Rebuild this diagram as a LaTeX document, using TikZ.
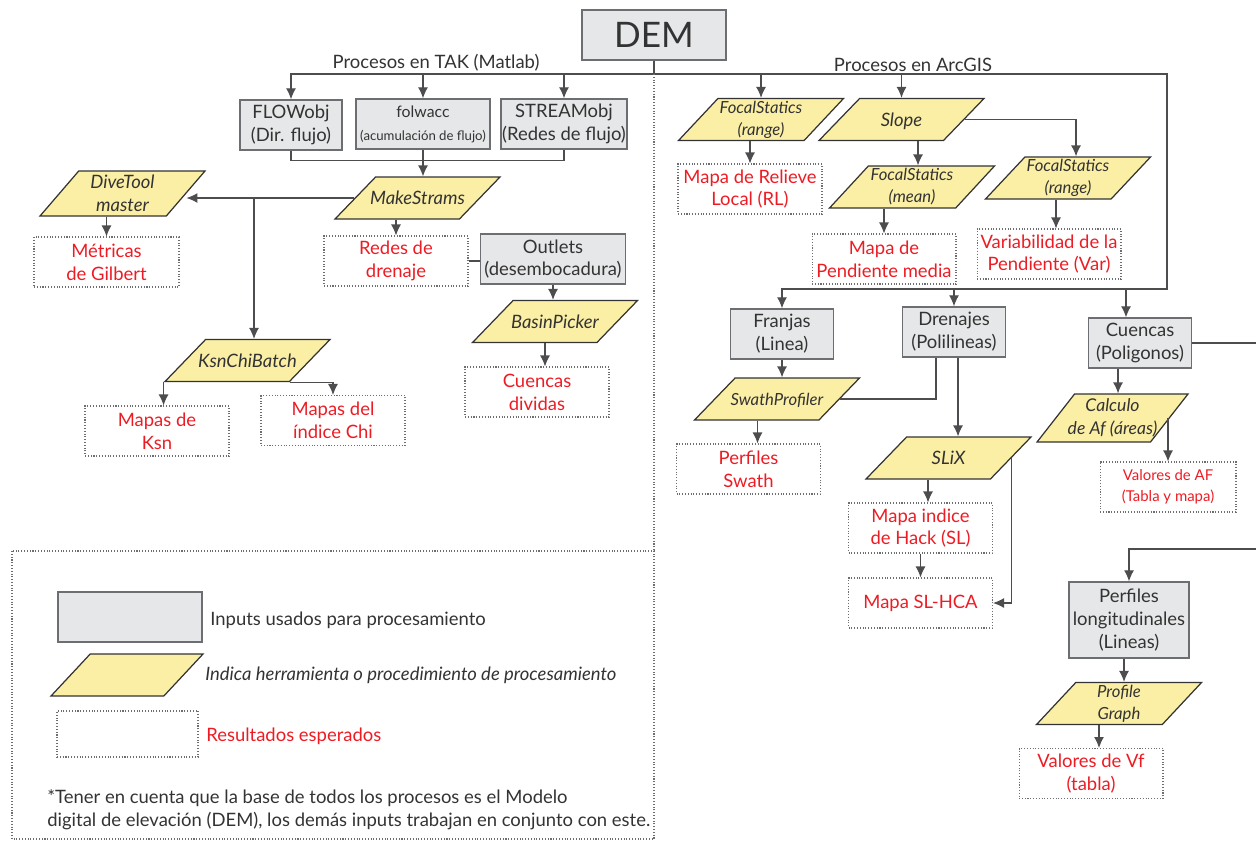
\documentclass[tikz,border=0pt]{standalone}
\usepackage{fontspec}
\setmainfont{Lato}
\usetikzlibrary{arrows.meta, shapes.geometric}

\definecolor{boxgray}{HTML}{E6E7E8}
\definecolor{edgegray}{HTML}{6D6E71}
\definecolor{toolyellow}{HTML}{FBEFA6}
\definecolor{resred}{HTML}{ED1C24}
\definecolor{inkgray}{HTML}{333333}
\definecolor{wiregray}{HTML}{4D4D4F}

\begin{document}
\begin{tikzpicture}[x=0.02cm, y=-0.02cm,
  every node/.style={text=inkgray, inner sep=0pt, font=\fontsize{10.5}{13}\selectfont},
  input/.style={draw=edgegray, fill=boxgray, line width=0.8pt, align=center, minimum width=2.06cm, minimum height=1cm},
  tool/.style={trapezium, trapezium left angle=46, trapezium right angle=134, trapezium stretches body,
    draw=inkgray, fill=toolyellow, line width=0.7pt, inner xsep=-0.25cm, inner ysep=0.035cm,
    minimum width=3.3cm, minimum height=0.84cm, align=center, font=\itshape\fontsize{9.5}{12.5}\selectfont},
  bigtool/.style={tool, font=\itshape\fontsize{10.5}{13}\selectfont},
  oneline/.style={text height=0.55cm, text depth=0.29cm, inner ysep=0pt},
  result/.style={draw=edgegray, densely dotted, line width=0.6pt, text=resred, align=center, minimum width=2.88cm, minimum height=1cm},
  wire/.style={draw=wiregray, line width=0.7pt},
  arr/.style={wire, -{Latex[length=2.2mm,width=2mm]}},
  sep/.style={draw=edgegray, densely dotted, line width=0.6pt}
]
\useasboundingbox (0,0) rectangle (1256,840);

% DEM y titulos
\node [input, minimum width=2.88cm, font=\fontsize{20}{24}\selectfont] (dem) at (654,35) {DEM};
\node (tak) at (436,63) {Procesos en TAK (Matlab)};
\node (arcgis) at (913,65) {Procesos en ArcGIS};

% TAK
\node [input, minimum width=2.04cm] (flow) at (291,125) {FLOWobj\\(Dir. flujo)};
\node [input, minimum width=2.68cm, font=\fontsize{9}{13}\selectfont] (folw) at (423,124) {folwacc\\{\fontsize{7.5}{9}\selectfont(acumulación de flujo)}};
\node [input, minimum width=2.52cm] (stream) at (564,124) {STREAMobj\\(Redes de flujo)};
\node [bigtool, minimum height=0.9cm] (dive) at (122.5,193.5) {DiveTool\\master};
\node [bigtool, oneline] (make) at (417.5,198) {MakeStrams};
\node [result, minimum width=2.9cm] (gilbert) at (106.5,262) {Métricas\\de Gilbert};
\node [result] (redes) at (396,261) {Redes de\\drenaje};
\node [input, minimum width=2.9cm] (outlets) at (553,259) {Outlets\\(desembocadura)};
\node [bigtool, oneline] (basin) at (555,321.5) {BasinPicker};
\node [result] (cdiv) at (537,392) {Cuencas\\dividas};
\node [bigtool, oneline] (ksn) at (247.5,360.5) {KsnChiBatch};
\node [result] (ksnmap) at (157,431) {Mapas de\\Ksn};
\node [result] (chimap) at (333,420.5) {Mapas del\\índice Chi};

% ArcGIS
\node [tool] (fsrange) at (761,119.5) {FocalStatics\\(range)};
\node [bigtool, oneline] (slope) at (901.5,119.5) {Slope};
\node [result] (relieve) at (750,189) {Mapa de Relieve\\Local (RL)};
\node [tool] (fsmean) at (912,187) {FocalStatics\\(mean)};
\node [tool] (fsvar) at (1068,178) {FocalStatics\\(range)};
\node [result] (pendiente) at (884,259) {Mapa de\\Pendiente media};
\node [result] (var) at (1049,254) {Variabilidad de la\\Pendiente (Var)};
\node [input] (franjas) at (782,334) {Franjas\\(Linea)};
\node [input] (drenajes) at (954,332) {Drenajes\\(Polilineas)};
\node [input] (cuencas) at (1140,343) {Cuencas\\(Poligonos)};
\node [tool, oneline] (swath) at (777,399) {SwathProfiler};
\node [result] (swathres) at (748.5,469) {Perfiles\\Swath};
\node [bigtool, oneline] (slix) at (948.5,458) {SLiX};
\node [result] (hack) at (920.5,528) {Mapa indice\\de Hack (SL)};
\node [result] (slhca) at (920.5,603) {Mapa SL-HCA};
\node [tool, trapezium left angle=51, trapezium right angle=129, inner ysep=0.08cm, minimum width=3.02cm, minimum height=0.96cm, font=\itshape\fontsize{10}{13}\selectfont] (calc) at (1112.5,418) {Calculo\\de Af (áreas)};
\node [result, minimum width=2.72cm, font=\fontsize{8.5}{12}\selectfont] (af) at (1168,487) {Valores de AF\\(Tabla y mapa)};
\node [input, minimum width=2.4cm, minimum height=1.52cm] (perfiles) at (1129,620) {Perfiles\\longitudinales\\(Lineas)};
\node [tool] (pgraph) at (1119,703.5) {Profile\\Graph};
\node [result] (vf) at (1091,773.5) {Valores de Vf\\(tabla)};

% leyenda
\node [input, minimum width=2.88cm] (keyinput) at (130,617) {};
\node [tool, oneline, inner xsep=0pt, trapezium left angle=47, trapezium right angle=133, minimum width=3.04cm] (keytool) at (127,675) {};
\node [result, minimum width=2.82cm, minimum height=0.92cm] (keyres) at (127.5,734) {};
\node [anchor=west] (keyinputtxt) at (210,620) {Inputs usados para procesamiento};
\node [anchor=west, font=\itshape\fontsize{10.5}{13}\selectfont] (keytooltxt) at (205,675) {Indica herramienta o procedimiento de procesamiento};
\node [anchor=west, text=resred] (keyrestxt) at (206,736) {Resultados esperados};
\node [anchor=west, align=left] (nota) at (47,810) {*Tener en cuenta que la base de todos los procesos es el Modelo\\digital de elevación (DEM), los demás inputs trabajan en conjunto con este.};

% buses
\coordinate (busT) at (654,74);
\coordinate (busR) at (1167,74);
\coordinate (busD) at (1167,289);
\draw [arr] (dem.south) -- (busT) -| (flow.north);
\draw [arr] (folw.north |- busT) -- (folw.north);
\draw [arr] (stream.north |- busT) -- (stream.north);
\draw [arr] (busT) -- (busR) -- (busD) -| (franjas.north);
\draw [arr] (fsrange.north |- busT) -- (fsrange.north);
\draw [arr] (slope.north |- busT) -- (slope.north);
\draw [arr] (drenajes.north |- busD) -- (drenajes.north);
\draw [arr] ([xshift=-0.28cm]cuencas.north |- busD) -- ([xshift=-0.28cm]cuencas.north);

% conexiones TAK
\coordinate (split) at (254,198);
\draw [wire] (flow.south) -- ++(0,10) -| (stream.south);
\draw [arr] (folw.south) -- (folw.south |- make.north);
\draw [arr] (make.left side) -- (make.left side -| dive.right side);
\draw [arr] (split) -- (split |- ksn.north);
\draw [arr] (gilbert.north |- dive.south) -- (gilbert.north);
\draw [arr] (redes.north |- make.south) -- (redes.north);
\draw [wire] (redes.east) -- (redes.east -| outlets.west);
\draw [arr] (outlets.south) -- (outlets.south |- basin.north);
\draw [arr] ([xshift=0.16cm]cdiv.north |- basin.south) -- ([xshift=0.16cm]cdiv.north);
\draw [arr] (ksn.bottom left corner) -- (ksn.bottom left corner |- ksnmap.north);
\draw [arr] (ksn.bottom right corner) -| (chimap.north);

% conexiones ArcGIS
\draw [arr] (relieve.north |- fsrange.south) -- (relieve.north);
\draw [arr] ([xshift=0.12cm]fsmean.north |- slope.south) -- ([xshift=0.12cm]fsmean.north);
\draw [arr] (slope.right side) -| ([xshift=0.16cm]fsvar.north);
\draw [arr] (pendiente.north |- fsmean.south) -- (pendiente.north);
\draw [arr] ([xshift=0.14cm]var.north |- fsvar.south) -- ([xshift=0.14cm]var.north);
\draw [arr] (franjas.south) -- (franjas.south |- swath.north);
\draw [wire] ([xshift=-0.36cm]drenajes.south) |- (swath.right side);
\draw [arr] ([xshift=0.08cm]drenajes.south) -- ([xshift=0.08cm]drenajes.south |- slix.north);
\draw [arr] ([xshift=0.18cm]swathres.north |- swath.south) -- ([xshift=0.18cm]swathres.north);
\draw [arr] ([xshift=0.15cm]hack.north |- slix.south) -- ([xshift=0.15cm]hack.north);
\draw [arr] (hack.south) -- (slhca.north);
\draw [arr] (slix.right side) |- (slhca.east);
\draw [arr] ([xshift=-0.44cm]cuencas.south) -- ([xshift=-0.44cm]cuencas.south |- calc.north);
\coordinate (edgeA) at (1256,343);
\coordinate (edgeB) at (1256,549);
\draw [wire] (cuencas.east) -- (edgeA);
\draw [arr] (af.north |- calc.right side) -- (af.north);
\draw [arr] (edgeB) -| (perfiles.north);
\draw [arr] ([xshift=-0.1cm]perfiles.south) -- ([xshift=-0.1cm]perfiles.south |- pgraph.north);
\draw [arr] ([xshift=0.16cm]vf.north |- pgraph.south) -- ([xshift=0.16cm]vf.north);

% separadores
\draw [sep] (busT) -- (654,551);
\draw [sep] (12,551) rectangle (654,839);
\end{tikzpicture}
\end{document}
